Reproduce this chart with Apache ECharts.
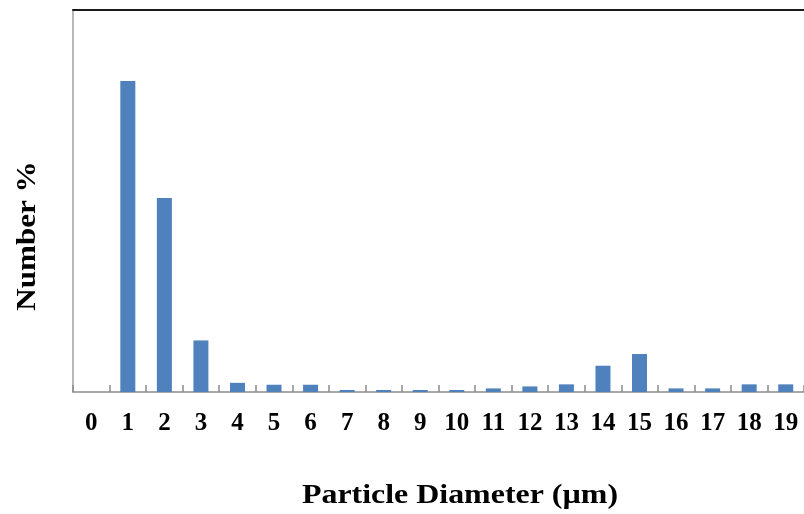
<!DOCTYPE html>
<html>
<head>
<meta charset="utf-8">
<script src="https://cdn.jsdelivr.net/npm/echarts@6/dist/echarts.min.js"></script>
<style>
  html, body { margin: 0; padding: 0; background: #fff; }
  #chart { width: 804px; height: 514px; }
</style>
</head>
<body>
<div id="chart"></div>
<script>
// particle diameter classes (um)
var diameters = ['0', '1', '2', '3', '4', '5', '6', '7', '8', '9', '10',
                 '11', '12', '13', '14', '15', '16', '17', '18', '19'];
// number %
var numberPct = [0, 40.7, 25.4, 6.75, 1.2, 0.95, 0.95, 0.26, 0.26, 0.26, 0.26,
                 0.47, 0.73, 1.0, 3.44, 4.97, 0.47, 0.47, 1.0, 1.0];

var myChart = echarts.init(document.getElementById('chart'));
var serif = '"Liberation Serif", "Times New Roman", serif';

var option = {
  animation: false,
  backgroundColor: '#fff',
  grid: { left: 73, right: 0, top: 10, bottom: 122 },
  xAxis: [
    {
      type: 'category',
      data: diameters,
      axisLine: { lineStyle: { color: '#8c8c8c', width: 1.5 } },
      axisTick: {
        show: true, inside: true, length: 7, interval: 0,
        lineStyle: { color: '#8c8c8c', width: 1.5 }
      },
      axisLabel: {
        interval: 0, margin: 19, color: '#000',
        fontFamily: serif, fontWeight: 'bold', fontSize: 25
      }
    },
    {
      // top border line
      type: 'category',
      position: 'top',
      data: diameters,
      axisLine: { lineStyle: { color: '#1a1a1a', width: 2 } },
      axisTick: { show: false },
      axisLabel: { show: false }
    }
  ],
  yAxis: {
    type: 'value',
    min: 0,
    max: 50,
    axisLine: { show: true, lineStyle: { color: '#a0a0a0', width: 1.5 } },
    axisTick: { show: false },
    axisLabel: { show: false },
    splitLine: { show: false }
  },
  graphic: [
    {
      type: 'text',
      x: 28, y: 236, rotation: Math.PI / 2, scaleX: 1.11,
      style: {
        text: 'Number %', fill: '#000', font: 'bold 28px ' + serif,
        align: 'center', verticalAlign: 'middle'
      }
    },
    {
      type: 'text',
      x: 460, y: 496, scaleX: 1.14,
      style: {
        text: 'Particle Diameter (µm)', fill: '#000', font: 'bold 28px ' + serif,
        align: 'center', verticalAlign: 'middle'
      }
    }
  ],
  series: [
    {
      type: 'bar',
      data: numberPct,
      barWidth: 15,
      itemStyle: { color: '#4f81bd' }
    }
  ]
};

myChart.setOption(option);
</script>
</body>
</html>
